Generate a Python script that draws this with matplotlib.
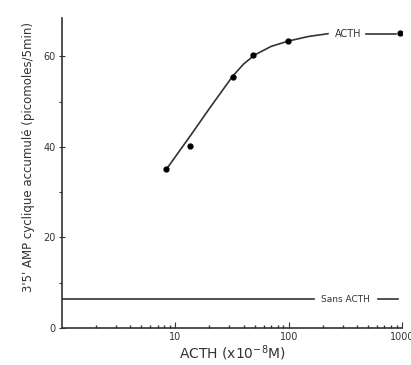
import matplotlib
matplotlib.use("Agg")
from matplotlib import pyplot as plt
from matplotlib.ticker import LogLocator, NullFormatter, FixedLocator

# measured points (ACTH dose, x10^-8 M) vs cyclic AMP accumulated
acth_dose = [8.3, 13.6, 32, 48, 98, 960]
acth_amp = [35.1, 40.2, 55.4, 60.3, 63.4, 65.1]

# hand-drawn curve through the points
curve_dose = [8.3, 13.6, 20, 32, 40, 50, 70, 100, 150, 222]
curve_amp = [35.0, 42.5, 48.5, 55.6, 58.3, 60.3, 62.2, 63.4, 64.4, 65.0]

# basal level without ACTH
sans_amp = 6.3

ink = "#333333"

fig = plt.figure(figsize=(4.11, 3.65), dpi=100)
ax = fig.add_axes([0.151, 0.1014, 0.827, 0.8496])

ax.plot(curve_dose, curve_amp, color=ink, lw=1.2)
ax.plot(acth_dose, acth_amp, "o", color="black", ms=3.5)
# legend-like labels drawn on the chart
ax.text(333, 65.0, "ACTH", fontsize=7, color=ink, ha="center", va="center")
ax.plot([480, 885], [65.0, 65.0], color=ink, lw=1.2)

ax.plot([1, 166], [sans_amp, sans_amp], color=ink, lw=1.2)
ax.text(319, sans_amp, "Sans ACTH", fontsize=6.5, color=ink, ha="center", va="center")
ax.plot([614, 922], [sans_amp, sans_amp], color=ink, lw=1.2)

ax.set_xscale("log")
ax.set_xlim(1, 1000)
ax.set_ylim(0, 68.5)

ax.spines["top"].set_visible(False)
ax.spines["right"].set_visible(False)
for s in ("left", "bottom"):
    ax.spines[s].set_color(ink)
    ax.spines[s].set_linewidth(1.2)

ax.xaxis.set_major_locator(FixedLocator([10, 100, 1000]))
ax.xaxis.set_major_formatter(plt.FuncFormatter(lambda v, p: "%d" % v))
ax.xaxis.set_minor_locator(LogLocator(base=10, subs=range(2, 10)))
ax.xaxis.set_minor_formatter(NullFormatter())
ax.tick_params(axis="x", which="major", direction="in", length=4, width=0.8,
               colors=ink, labelsize=7, pad=3)
ax.tick_params(axis="x", which="minor", direction="in", length=2, width=1.0, colors=ink)

ax.set_yticks([0, 20, 40, 60])
ax.set_yticks([10, 30, 50], minor=True)
ax.tick_params(axis="y", which="major", direction="inout", length=5, width=0.8,
               colors=ink, labelsize=7, pad=2)
ax.tick_params(axis="y", which="minor", direction="out", length=2, width=0.8, colors=ink)

ax.set_xlabel("ACTH (x10$^{-8}$M)", fontsize=10, color=ink, labelpad=1)
ax.set_ylabel("3'5' AMP cyclique accumulé (picomoles/5min)", fontsize=8.5, color=ink)
ax.yaxis.set_label_coords(-0.08, 0.55)

fig.savefig("out.png", dpi=100)
